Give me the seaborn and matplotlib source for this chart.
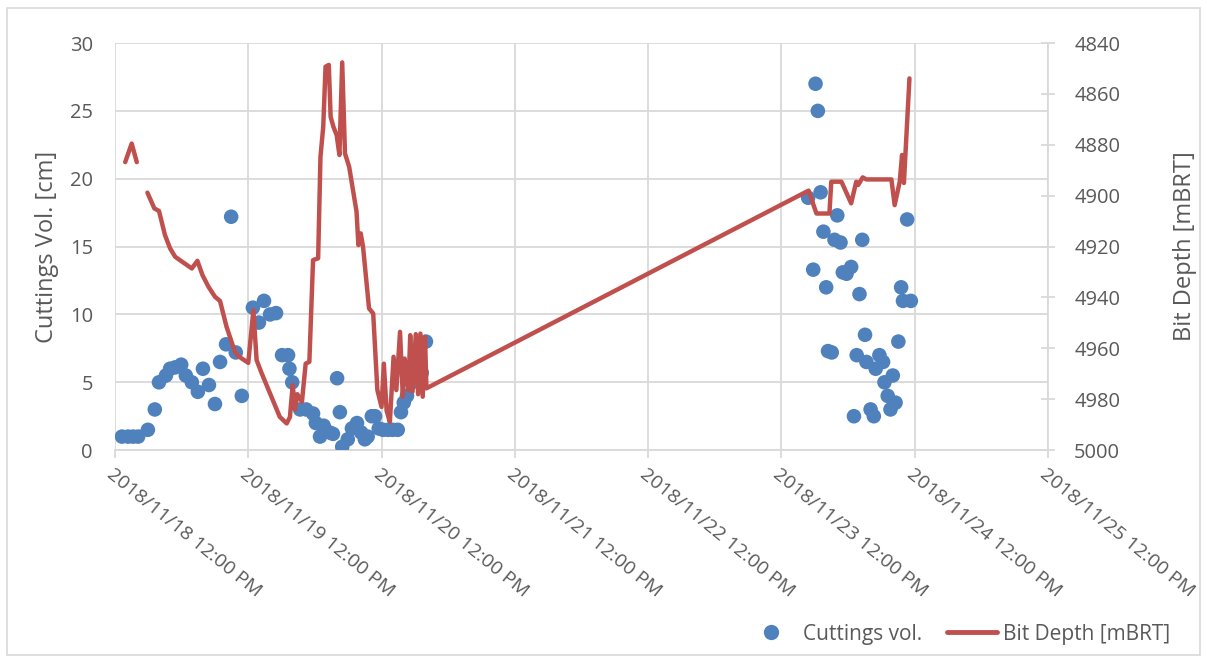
import numpy as np
import pandas as pd
import matplotlib
matplotlib.use("Agg")
import matplotlib.pyplot as plt
import matplotlib.dates as mdates
from matplotlib.lines import Line2D
import seaborn as sns

# ---------------- data ----------------
cut_times = [
    "2018-11-18 13:15", "2018-11-18 14:20", "2018-11-18 15:15", "2018-11-18 16:10",
    "2018-11-18 17:55", "2018-11-18 19:10", "2018-11-18 19:55", "2018-11-18 21:10",
    "2018-11-18 21:55", "2018-11-18 22:50", "2018-11-18 23:55", "2018-11-19 00:45",
    "2018-11-19 01:50", "2018-11-19 02:55", "2018-11-19 03:50", "2018-11-19 04:55",
    "2018-11-19 06:00", "2018-11-19 06:55", "2018-11-19 08:00", "2018-11-19 08:55",
    "2018-11-19 09:45", "2018-11-19 10:50", "2018-11-19 12:50", "2018-11-19 13:55",
    "2018-11-19 14:50", "2018-11-19 15:55", "2018-11-19 17:00", "2018-11-19 18:05",
    "2018-11-19 19:10", "2018-11-19 19:25", "2018-11-19 19:55", "2018-11-19 21:20",
    "2018-11-19 22:25", "2018-11-19 23:40", "2018-11-20 00:10", "2018-11-20 00:55",
    "2018-11-20 01:35", "2018-11-20 02:40", "2018-11-20 03:15", "2018-11-20 04:00",
    "2018-11-20 04:30", "2018-11-20 04:55", "2018-11-20 05:55", "2018-11-20 06:40",
    "2018-11-20 07:35", "2018-11-20 08:20", "2018-11-20 09:00", "2018-11-20 09:30",
    "2018-11-20 10:15", "2018-11-20 10:50", "2018-11-20 11:30", "2018-11-20 12:15",
    "2018-11-20 13:10", "2018-11-20 14:00", "2018-11-20 14:55", "2018-11-20 15:30",
    "2018-11-20 16:00", "2018-11-20 16:35", "2018-11-20 17:30", "2018-11-20 18:20",
    "2018-11-20 19:15", "2018-11-20 20:00",
    "2018-11-23 16:50", "2018-11-23 17:45", "2018-11-23 18:10", "2018-11-23 18:35",
    "2018-11-23 19:05", "2018-11-23 19:35", "2018-11-23 20:05", "2018-11-23 20:25",
    "2018-11-23 21:05", "2018-11-23 21:35", "2018-11-23 22:05", "2018-11-23 22:40",
    "2018-11-23 23:05", "2018-11-23 23:45", "2018-11-24 00:35", "2018-11-24 01:05",
    "2018-11-24 01:35", "2018-11-24 02:05", "2018-11-24 02:35", "2018-11-24 03:05",
    "2018-11-24 03:20", "2018-11-24 04:05", "2018-11-24 04:40", "2018-11-24 05:00",
    "2018-11-24 05:40", "2018-11-24 06:20", "2018-11-24 06:35", "2018-11-24 07:10",
    "2018-11-24 07:40", "2018-11-24 08:05", "2018-11-24 08:35", "2018-11-24 09:05",
    "2018-11-24 09:35", "2018-11-24 09:55", "2018-11-24 10:40", "2018-11-24 11:20",
]
cut_vol = [
    1.0, 1.0, 1.0, 1.0,
    1.5, 3.0, 5.0, 5.5,
    6.0, 6.1, 6.3, 5.5,
    5.0, 4.3, 6.0, 4.8,
    3.4, 6.5, 7.8, 17.2,
    7.2, 4.0, 10.5, 9.4,
    11.0, 10.0, 10.1, 7.0,
    7.0, 6.0, 5.0, 3.0,
    3.0, 2.7, 2.0, 1.0,
    1.8, 1.3, 1.2, 5.3,
    2.8, 0.25, 0.8, 1.6,
    2.0, 1.3, 0.8, 1.0,
    2.5, 2.5, 1.6, 1.5,
    1.5, 1.5, 1.5, 2.8,
    3.5, 4.0, 5.0, 5.5,
    5.7, 8.0,
    18.6, 13.3, 27.0, 25.0,
    19.0, 16.1, 12.0, 7.3,
    7.2, 15.5, 17.3, 15.3,
    13.1, 13.0, 13.5, 2.5,
    7.0, 11.5, 15.5, 8.5,
    6.5, 3.0, 2.5, 6.0,
    7.0, 6.5, 5.0, 4.0,
    3.0, 5.5, 3.5, 8.0,
    12.0, 11.0, 17.0, 11.0,
]

depth_times = [
    "2018-11-18 13:50", "2018-11-18 15:00", "2018-11-18 15:55",
    "2018-11-18 17:50", "2018-11-18 19:05", "2018-11-18 19:55", "2018-11-18 21:00",
    "2018-11-18 21:55", "2018-11-18 22:50", "2018-11-18 23:40", "2018-11-19 01:50",
    "2018-11-19 02:50", "2018-11-19 03:45", "2018-11-19 04:50", "2018-11-19 06:00",
    "2018-11-19 06:55", "2018-11-19 08:05", "2018-11-19 09:35", "2018-11-19 10:10",
    "2018-11-19 12:00", "2018-11-19 12:55", "2018-11-19 13:30", "2018-11-19 14:25",
    "2018-11-19 17:40", "2018-11-19 18:55", "2018-11-19 19:30", "2018-11-19 20:00",
    "2018-11-19 20:25", "2018-11-19 20:50", "2018-11-19 21:40", "2018-11-19 22:20",
    "2018-11-19 23:00", "2018-11-19 23:40", "2018-11-20 00:35", "2018-11-20 01:00",
    "2018-11-20 01:30", "2018-11-20 01:55", "2018-11-20 02:30", "2018-11-20 02:50",
    "2018-11-20 03:20", "2018-11-20 03:55", "2018-11-20 04:25", "2018-11-20 04:55",
    "2018-11-20 05:25", "2018-11-20 06:10", "2018-11-20 07:30", "2018-11-20 07:50",
    "2018-11-20 08:15", "2018-11-20 08:40", "2018-11-20 09:45", "2018-11-20 10:30",
    "2018-11-20 11:15", "2018-11-20 12:00", "2018-11-20 12:25", "2018-11-20 12:55",
    "2018-11-20 13:30", "2018-11-20 14:10", "2018-11-20 14:40", "2018-11-20 15:20",
    "2018-11-20 15:50", "2018-11-20 16:10", "2018-11-20 16:50", "2018-11-20 17:10",
    "2018-11-20 17:35", "2018-11-20 18:10", "2018-11-20 18:35", "2018-11-20 19:00",
    "2018-11-20 19:25", "2018-11-20 19:50", "2018-11-20 20:05",
    "2018-11-23 16:55", "2018-11-23 18:20", "2018-11-23 20:40", "2018-11-23 21:00",
    "2018-11-23 22:50", "2018-11-24 00:35", "2018-11-24 01:30", "2018-11-24 01:50",
    "2018-11-24 02:40", "2018-11-24 03:20", "2018-11-24 07:50", "2018-11-24 08:25",
    "2018-11-24 09:20", "2018-11-24 09:45", "2018-11-24 10:05", "2018-11-24 11:05",
]
bit_depth = [
    4886.8, 4879.5, 4886.8,
    4898.8, 4905.0, 4906.0, 4915.5,
    4920.7, 4924.0, 4925.3, 4928.6,
    4925.6, 4931.2, 4935.8, 4939.7,
    4941.4, 4951.5, 4961.3, 4963.0,
    4965.7, 4945.0, 4964.6, 4969.8,
    4986.9, 4989.5, 4987.0, 4974.4,
    4984.0, 4978.0, 4981.0, 4966.0,
    4965.3, 4925.3, 4924.6, 4884.7,
    4872.9, 4849.3, 4848.6, 4869.0,
    4872.9, 4876.2, 4884.0, 4847.6,
    4883.4, 4888.6, 4906.3, 4919.4,
    4914.8, 4920.0, 4944.3, 4946.3,
    4976.4, 4983.0, 4966.0, 4984.5,
    4988.9, 4963.3, 4976.4, 4953.5,
    4979.0, 4964.0, 4976.4, 4954.8,
    4977.0, 4954.4, 4978.0, 4954.2,
    4979.0, 4955.5, 4975.7,
    4898.0, 4907.0, 4907.0, 4894.5,
    4894.5, 4903.0, 4894.5, 4895.8,
    4892.8, 4893.6, 4893.6, 4903.7,
    4894.5, 4884.0, 4895.0, 4853.9,
]
# segment id: the first three readings are separated by a gap from the rest
depth_segment = [0] * 3 + [1] * (len(bit_depth) - 3)

x_ticks = pd.date_range("2018-11-18 12:00", "2018-11-25 12:00", freq="D")
left_ticks = [0, 5, 10, 15, 20, 25, 30]
right_ticks = [4840, 4860, 4880, 4900, 4920, 4940, 4960, 4980, 5000]

# ---------------- style ----------------
sns.set_theme(style="white")
plt.rcParams["font.family"] = ["Open Sans", "DejaVu Sans"]

BLUE = "#4F81BD"
RED = "#C0504D"
GRID = "#D9D9D9"
TXT = "#595959"

cut_df = pd.DataFrame({"time": pd.to_datetime(cut_times), "vol": cut_vol})
dep_df = pd.DataFrame({"time": pd.to_datetime(depth_times), "depth": bit_depth,
                       "seg": depth_segment})

fig = plt.figure(figsize=(12.07, 6.62), dpi=100)
ax = fig.add_axes([0.0953, 0.320, 0.7728, 0.615])
ax2 = ax.twinx()

sns.scatterplot(data=cut_df, x="time", y="vol", ax=ax, color=BLUE, s=110,
                edgecolor="none", zorder=3, legend=False)
sns.lineplot(data=dep_df, x="time", y="depth", units="seg", estimator=None,
             ax=ax2, color=RED, linewidth=3.2, sort=False, legend=False)

# axes ranges
ax.set_xlim(x_ticks[0], x_ticks[-1])
ax.set_ylim(0, 30)
ax.set_yticks(left_ticks)
ax2.set_ylim(5000, 4840)
ax2.set_yticks(right_ticks)

ax.set_xticks(x_ticks)
ax.xaxis.set_major_formatter(mdates.DateFormatter("%Y/%m/%d %I:%M %p"))

# grid
ax.grid(True, color=GRID, linewidth=1.3)
ax.set_axisbelow(True)
ax2.grid(False)

for sp in ["top", "left", "right"]:
    ax.spines[sp].set_visible(False)
ax.spines["bottom"].set_color(GRID)
ax.spines["bottom"].set_linewidth(1.3)
for sp in ["top", "left", "bottom"]:
    ax2.spines[sp].set_visible(False)
ax2.spines["right"].set_color(GRID)
ax2.spines["right"].set_linewidth(1.3)

ax.tick_params(axis="y", length=0, labelsize=14.5, labelcolor=TXT, pad=16)
ax.tick_params(axis="x", direction="out", length=6, width=1.3, color=GRID,
               labelsize=14, labelcolor=TXT, pad=5, bottom=True)
ax2.tick_params(axis="y", direction="inout", length=10, width=1.3, color=GRID,
                labelsize=14.5, labelcolor=TXT, pad=14, right=True)

for lab in ax.get_xticklabels():
    lab.set_rotation(-39)
    lab.set_ha("left")
    lab.set_va("top")
    lab.set_rotation_mode("anchor")

ax.set_xlabel("")
ax.set_ylabel("Cuttings Vol. [cm]", fontsize=17, color=TXT, labelpad=8)
ax2.set_ylabel("Bit Depth [mBRT]", fontsize=17, color=TXT, labelpad=38)

# legend
handles = [
    Line2D([], [], marker="o", linestyle="none", markersize=11,
           markerfacecolor=BLUE, markeredgecolor="none", label="Cuttings vol."),
    Line2D([], [], color=RED, linewidth=3.5, label="Bit Depth [mBRT]"),
]
leg = fig.legend(handles=handles, loc="center", bbox_to_anchor=(0.794, 0.042),
                 ncol=2, frameon=False, fontsize=15, handlelength=2.4,
                 columnspacing=1.2, handletextpad=0.3)
for t in leg.get_texts():
    t.set_color(TXT)

# chart-area border
fig.patches.append(plt.Rectangle((0.006, 0.011), 0.988, 0.977,
                                 transform=fig.transFigure, fill=False,
                                 edgecolor=GRID, linewidth=1.2))

fig.savefig("out.png", dpi=100)
